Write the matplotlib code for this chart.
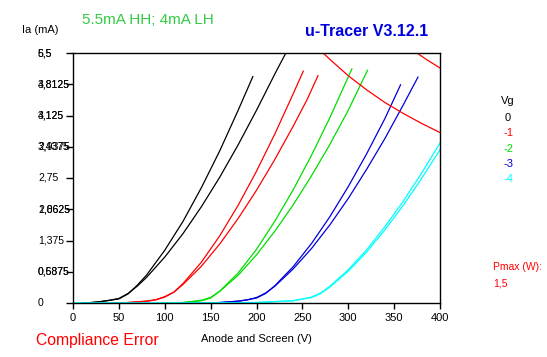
import matplotlib
matplotlib.use("Agg")
import matplotlib.pyplot as plt
from matplotlib.transforms import blended_transform_factory

# ---------------- data ----------------
v_blk_hh = [10, 20, 30, 40, 50, 60, 70, 80, 100, 120, 140, 160, 180, 200, 220, 232]
i_blk_hh = [0.0, 0.01, 0.03, 0.06, 0.10, 0.21, 0.37, 0.56, 1.01, 1.53, 2.12, 2.77, 3.48, 4.24, 5.04, 5.5]
v_blk_lh = [10, 20, 30, 40, 50, 60, 70, 80, 100, 120, 140, 160, 180, 196]
i_blk_lh = [0.0, 0.01, 0.03, 0.06, 0.09, 0.20, 0.39, 0.61, 1.16, 1.80, 2.54, 3.35, 4.24, 4.98]

v_red_hh = [44, 60, 80, 90, 100, 110, 120, 140, 160, 180, 200, 220, 240, 255, 267]
i_red_hh = [0.0, 0.01, 0.04, 0.07, 0.14, 0.24, 0.41, 0.81, 1.30, 1.86, 2.48, 3.16, 3.89, 4.47, 5.0]
v_red_lh = [44, 60, 80, 90, 100, 110, 120, 140, 160, 180, 200, 220, 237, 251]
i_red_lh = [0.0, 0.01, 0.04, 0.07, 0.13, 0.24, 0.43, 0.90, 1.48, 2.15, 2.90, 3.72, 4.47, 5.1]

v_grn_hh = [98, 120, 140, 150, 160, 180, 200, 220, 240, 260, 280, 300, 321]
i_grn_hh = [0.0, 0.01, 0.06, 0.12, 0.26, 0.61, 1.06, 1.58, 2.16, 2.80, 3.49, 4.24, 5.12]
v_grn_lh = [98, 120, 140, 150, 160, 180, 200, 220, 240, 260, 280, 304]
i_grn_lh = [0.0, 0.01, 0.05, 0.11, 0.26, 0.66, 1.18, 1.80, 2.49, 3.25, 4.08, 5.15]

v_blu_hh = [135, 160, 180, 190, 200, 210, 220, 240, 260, 280, 300, 320, 340, 360, 376]
i_blu_hh = [0.0, 0.01, 0.04, 0.07, 0.12, 0.22, 0.37, 0.75, 1.20, 1.72, 2.30, 2.94, 3.62, 4.36, 4.97]
v_blu_lh = [135, 160, 180, 190, 200, 210, 220, 240, 260, 280, 300, 320, 340, 357]
i_blu_lh = [0.0, 0.01, 0.04, 0.07, 0.11, 0.21, 0.38, 0.80, 1.31, 1.90, 2.56, 3.28, 4.06, 4.80]

v_cyn_hh = [0, 100, 200, 240, 260, 270, 280, 300, 320, 340, 360, 380, 400]
i_cyn_hh = [0.0, 0.0, 0.01, 0.05, 0.13, 0.22, 0.37, 0.73, 1.17, 1.68, 2.24, 2.86, 3.52]
v_cyn_lh = [0, 100, 200, 240, 260, 270, 280, 300, 320, 340, 360, 380, 400]
i_cyn_lh = [0.0, 0.0, 0.01, 0.05, 0.12, 0.21, 0.35, 0.70, 1.12, 1.61, 2.15, 2.74, 3.37]

v_pmax = [272, 280, 300, 320, 340, 360, 380, 400]
i_pmax = [5.51, 5.36, 5.0, 4.69, 4.41, 4.17, 3.95, 3.75]
v_pmax2 = [375, 385, 400]
i_pmax2 = [5.5, 5.36, 5.17]

x_ticks = [0, 50, 100, 150, 200, 250, 300, 350, 400]
y_ticks = [0, 0.6875, 1.375, 2.0625, 2.75, 3.4375, 4.125, 4.8125, 5.5]
y_labels = ["0", "0,6875", "1,375", "2,0625", "2,75", "3,4375", "4,125", "4,8125", "5,5"]
y_labels2 = ["", "0,5875", "", "1,8625", "", "2,9375", "3,125", "3,8125", "6,5"]

vg_labels = ["0", "-1", "-2", "-3", "-4"]
colors = ["#000000", "#ff0000", "#00dd00", "#0000dd", "#00ffff"]

# ---------------- figure ----------------
plt.rcParams['font.family'] = ['Liberation Sans', 'DejaVu Sans']
fig = plt.figure(figsize=(5.47, 3.57), dpi=100)
ax = fig.add_axes([73/547, 54/357, 367/547, 250/357])

lw = 0.9
series = [
    (v_blk_hh, i_blk_hh, v_blk_lh, i_blk_lh),
    (v_red_hh, i_red_hh, v_red_lh, i_red_lh),
    (v_grn_hh, i_grn_hh, v_grn_lh, i_grn_lh),
    (v_blu_hh, i_blu_hh, v_blu_lh, i_blu_lh),
    (v_cyn_hh, i_cyn_hh, v_cyn_lh, i_cyn_lh),
]
for (vh, ih, vl, il), c in zip(series, colors):
    ax.plot(vh, ih, color=c, lw=lw)
    ax.plot(vl, il, color=c, lw=lw)

ax.plot(v_pmax, i_pmax, color="#ff0000", lw=lw)
ax.plot(v_pmax2, i_pmax2, color="#ff0000", lw=lw)

ax.set_xlim(0, 400)
ax.set_ylim(0, 5.5)
for s in ax.spines.values():
    s.set_linewidth(1.0)

ax.set_xticks(x_ticks)
ax.set_xticklabels([str(x) for x in x_ticks], fontsize=8)
ax.tick_params(axis='x', direction='out', length=4, width=1, pad=3)
ax.set_yticks(y_ticks)
ax.set_yticklabels([""] * len(y_ticks))
ax.tick_params(axis='y', direction='out', length=5, width=1)

trans = blended_transform_factory(fig.transFigure, ax.transData)
for y, lab, lab2 in zip(y_ticks, y_labels, y_labels2):
    ax.text(38/547, y, lab, transform=trans, ha='left', va='center', fontsize=7.5, clip_on=False)
    if lab2:
        ax.text(38/547, y, lab2, transform=trans, ha='left', va='center', fontsize=7.5, clip_on=False)

ax.set_xlabel("Anode and Screen (V)", fontsize=8, labelpad=8)

fig.text(22/547, 1 - 30/357, "Ia (mA)", fontsize=8, ha='left', va='center')
fig.text(82/547, 1 - 20/357, "5.5mA HH; 4mA LH", fontsize=11, color="#33cc44", ha='left', va='center')
fig.text(305/547, 1 - 31/357, "u-Tracer V3.12.1", fontsize=11.5, color="#0000dd",
         fontweight='bold', ha='left', va='center')

fig.text(508/547, 1 - 101/357, "Vg", fontsize=8, ha='center', va='center')
ys = [118, 133, 149, 164, 179]
for lab, c, yp in zip(vg_labels, colors, ys):
    fig.text(508/547, 1 - yp/357, lab, fontsize=8, color=c, ha='center', va='center')

fig.text(493/547, 1 - 267/357, "Pmax (W):", fontsize=7.5, color="#ff0000", ha='left', va='center')
fig.text(493/547, 1 - 283/357, "1,5", fontsize=7.5, color="#ff0000", ha='left', va='center')
fig.text(36/547, 1 - 341/357, "Compliance Error", fontsize=11.3, color="#ff0000", ha='left', va='center')

fig.savefig("out.png", dpi=100)
